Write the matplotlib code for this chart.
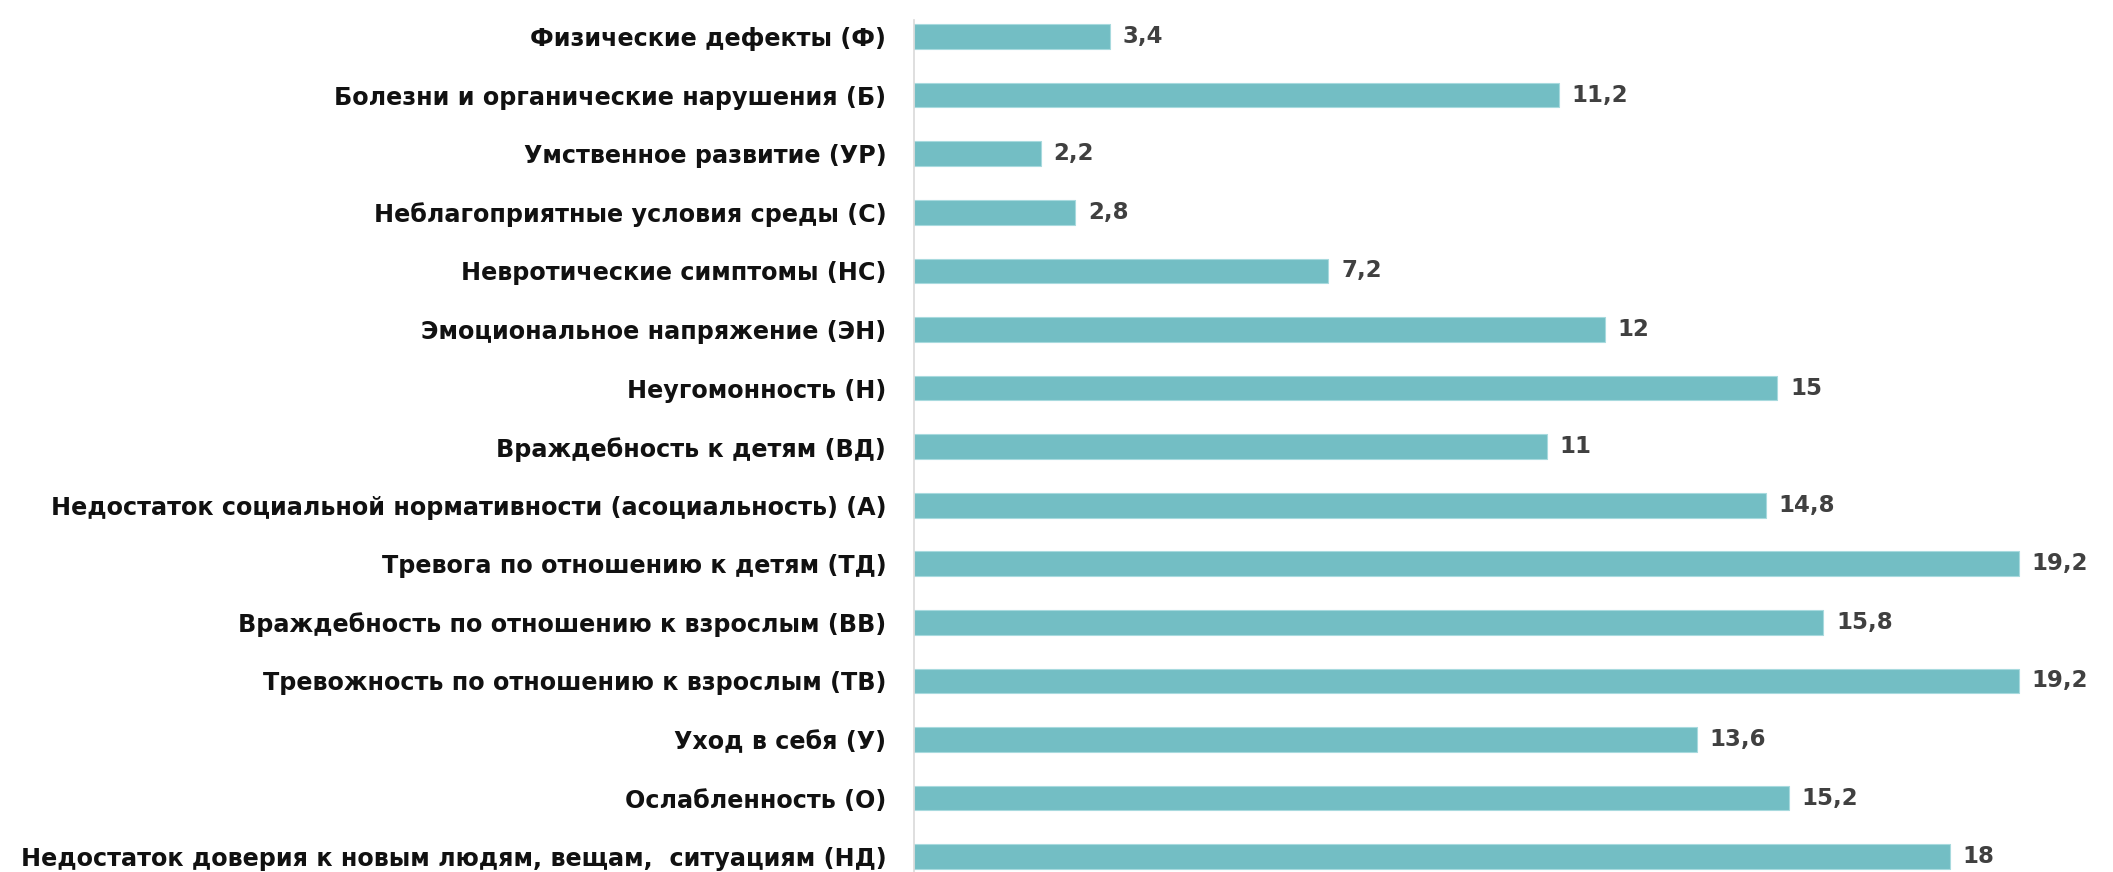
import matplotlib
matplotlib.use("Agg")
from matplotlib import pyplot as plt

# категории сверху вниз
labels = [
    "Физические дефекты (Ф)",
    "Болезни и органические нарушения (Б)",
    "Умственное развитие (УР)",
    "Неблагоприятные условия среды (С)",
    "Невротические симптомы (НС)",
    "Эмоциональное напряжение (ЭН)",
    "Неугомонность (Н)",
    "Враждебность к детям (ВД)",
    "Недостаток социальной нормативности (асоциальность) (А)",
    "Тревога по отношению к детям (ТД)",
    "Враждебность по отношению к взрослым (ВВ)",
    "Тревожность по отношению к взрослым (ТВ)",
    "Уход в себя (У)",
    "Ослабленность (О)",
    "Недостаток доверия к новым людям, вещам,  ситуациям (НД)",
]
values = [3.4, 11.2, 2.2, 2.8, 7.2, 12, 15, 11, 14.8, 19.2, 15.8, 19.2, 13.6, 15.2, 18]
value_text = ["3,4", "11,2", "2,2", "2,8", "7,2", "12", "15", "11", "14,8",
              "19,2", "15,8", "19,2", "13,6", "15,2", "18"]

fig = plt.figure(figsize=(21.13, 8.72), dpi=100)
ax = fig.add_axes([914 / 2113, 0.0, 1 - 914 / 2113 - 0.005, 0.977])

pos = list(range(len(values)))
ax.barh(pos, values, height=0.42, color="#73BEC4", edgecolor="#A8DADE", linewidth=0.8)

for p, v, t in zip(pos, values, value_text):
    ax.text(v + 0.22, p, t, va="center", ha="left", fontsize=16.5,
            fontweight="bold", color="#404040")

ax.set_ylim(14.26, -0.28)
ax.set_xlim(0, 20.65)
ax.set_yticks(pos)
ax.set_yticklabels(labels, fontsize=17.2, fontweight="bold", color="#111111")
ax.tick_params(axis="y", length=0, pad=20)
ax.set_xticks([])
for s in ["top", "right", "bottom"]:
    ax.spines[s].set_visible(False)
ax.spines["left"].set_color("#D9D9D9")
ax.spines["left"].set_linewidth(1.2)

fig.savefig("out.png", dpi=100)
